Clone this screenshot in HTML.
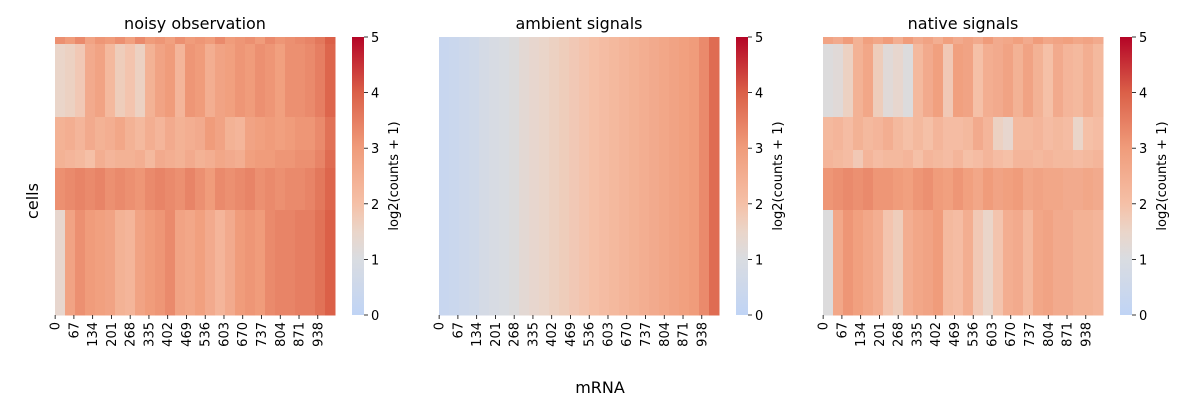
<!DOCTYPE html>
<html><head><meta charset="utf-8">
<style>
body{margin:0;background:#fff;font-family:"Liberation Sans","DejaVu Sans",sans-serif;}
svg text{font-family:"DejaVu Sans","Liberation Sans",sans-serif;fill:#000;}
</style></head>
<body>
<svg id="fig" width="1200" height="400" viewBox="0 0 1200 400" xmlns="http://www.w3.org/2000/svg">
<text x="600" y="393" font-size="16" text-anchor="middle">mRNA</text>
<text x="0" y="0" font-size="16" text-anchor="middle" transform="translate(38,201) rotate(-90)">cells</text>
</svg>
<script>
const blockHeights = [7, 73, 33, 18, 42, 105];
const noisyA = [3.2,3.0,3.3,2.8,3.1,3.0,3.2,2.9,3.3,3.0,3.1,2.9,3.2,3.0,3.1,3.0,3.3,3.0,3.1,3.2,3.0,3.3,3.1,3.2,3.3,3.4,3.6,4.0];
const noisyB = [1.5,1.6,1.8,2.6,2.8,2.2,1.7,1.9,1.6,2.4,2.8,3.0,2.3,3.1,3.0,2.5,2.8,2.9,3.1,3.0,3.2,3.1,2.9,3.2,3.2,3.3,3.5,3.9];
const noisyC = [2.4,2.5,2.3,2.6,2.4,2.5,2.7,2.4,2.2,2.5,2.3,2.6,2.4,2.5,2.6,3.0,2.8,2.4,2.3,2.8,2.9,3.0,2.9,3.0,3.1,3.1,3.3,3.7];
const noisyD = [2.4,2.3,2.2,2.0,2.5,2.3,2.4,2.4,2.5,2.2,2.6,2.5,2.4,2.6,2.4,2.5,2.7,2.6,2.5,2.9,3.0,3.0,3.1,3.1,3.2,3.2,3.4,3.8];
const noisyE = [3.2,3.3,3.4,3.3,3.4,3.2,3.3,3.2,3.1,3.3,3.4,3.3,3.2,3.4,3.2,3.0,3.3,3.2,3.3,3.4,3.2,3.3,3.2,3.3,3.3,3.4,3.6,3.9];
const noisyF = [1.4,2.8,3.2,3.0,2.9,2.8,2.4,2.3,2.8,3.0,3.1,3.3,2.8,2.7,2.9,2.6,2.3,2.6,3.0,3.1,3.0,3.3,3.4,3.4,3.5,3.5,3.7,4.0];
const noisyBlocks = [noisyA,noisyB,noisyC,noisyD,noisyE,noisyF];

const ambientCols = [0.3,0.4,0.5,0.6,0.8,0.9,1.0,1.1,1.3,1.4,1.5,1.6,1.7,1.8,1.9,2.0,2.1,2.2,2.3,2.4,2.5,2.6,2.7,2.8,2.9,3.0,3.3,3.8];

const nativeA = [2.8,2.6,3.0,2.4,2.9,2.7,3.0,2.5,3.0,2.6,2.8,2.5,2.9,2.6,2.8,2.6,3.0,2.6,2.7,2.9,2.6,3.0,2.7,2.8,2.9,2.7,2.8,2.6];
const nativeB = [1.1,1.2,1.6,2.4,2.7,1.7,1.2,1.4,1.1,2.2,2.6,2.9,1.8,2.9,2.8,2.0,2.5,2.6,2.8,2.4,2.8,2.4,2.0,2.6,2.3,2.2,2.5,2.2];
const nativeC = [2.2,2.3,2.1,2.4,2.2,2.3,2.5,2.2,2.0,2.2,2.0,2.3,2.1,2.1,2.2,2.6,2.3,1.6,1.4,2.2,2.2,2.3,2.1,2.2,2.1,1.5,2.0,2.1];
const nativeD = [2.3,2.2,2.1,1.8,2.3,2.1,2.2,2.2,2.3,2.0,2.3,2.2,2.1,2.3,2.0,2.1,2.3,2.1,2.0,2.3,2.3,2.2,2.3,2.2,2.2,2.1,2.2,2.3];
const nativeE = [3.1,3.2,3.3,3.2,3.3,3.1,3.1,3.0,2.9,3.1,3.2,3.0,2.9,3.1,2.9,2.7,3.0,2.8,2.9,3.0,2.7,2.8,2.7,2.7,2.6,2.6,2.7,2.6];
const nativeF = [1.1,2.7,3.1,2.9,2.7,2.5,1.9,1.7,2.5,2.7,2.8,3.0,2.2,2.1,2.5,1.8,1.5,1.9,2.5,2.6,2.2,2.7,2.8,2.6,2.6,2.4,2.4,2.3];
const nativeBlocks = [nativeA,nativeB,nativeC,nativeD,nativeE,nativeF];

const xTickLabels = ["0","67","134","201","268","335","402","469","536","603","670","737","804","871","938"];
const xTickValues = [0,67,134,201,268,335,402,469,536,603,670,737,804,871,938];
const nGenes = 1000;
const cbTicks = [0,1,2,3,4,5];

const NS="http://www.w3.org/2000/svg";
const svgRoot=document.getElementById('fig');
function el(tag,attrs,parent){const e=document.createElementNS(NS,tag);for(const k in attrs)e.setAttribute(k,attrs[k]);(parent||svgRoot).appendChild(e);return e;}

const stops=[[0,[192,212,245]],[1,[217,220,225]],[1.5,[234,213,201]],[2,[245,192,167]],[3,[240,156,123]],[4,[219,96,72]],[5,[180,4,38]]];
function color(v){v=Math.max(0,Math.min(5,v));for(let i=1;i<stops.length;i++){if(v<=stops[i][0]){const a=stops[i-1],b=stops[i];const t=(v-a[0])/(b[0]-a[0]);const c=a[1].map((x,j)=>Math.round(x+(b[1][j]-x)*t));return `rgb(${c[0]},${c[1]},${c[2]})`;}}return 'rgb(180,4,38)';}

const topY=37,bottomY=315,W=280;
const totalH=blockHeights.reduce((a,b)=>a+b,0);
function yScale(u){return topY+(bottomY-topY)*u/totalH;}
function cbScale(v){return bottomY-(bottomY-topY)*v/5;}

function panel(x0,title,getVal,name){
  const g=el('g',{});
  
  
  const nC=28, cw=W/nC;
  let acc=0;
  blockHeights.forEach((h,bi)=>{
    for(let c=0;c<nC;c++){
      const r=el('rect',{x:x0+c*cw,y:yScale(acc),width:cw+0.5,height:yScale(acc+h)-yScale(acc)+0.5,fill:color(getVal(bi,c))},g);
      
      
    }
    acc+=h;
  });
  const t=el('text',{x:x0+W/2,y:29,'font-size':16,'text-anchor':'middle'});
  t.textContent=title;
  
  
  xTickValues.forEach((v,i)=>{
    const x=x0+(v+0.5)*W/nGenes;
    el('line',{x1:x,x2:x,y1:bottomY,y2:bottomY+4,stroke:'#000','stroke-width':0.8});
    const tl=el('text',{x:0,y:0,'font-size':13,'text-anchor':'end',transform:`translate(${x+4.5},${bottomY+7}) rotate(-90)`});
    tl.textContent=xTickLabels[i];
    
    
  });
  const cx=x0+297;
  const defs=el('defs',{});
  const lg=el('linearGradient',{id:'g'+name,x1:0,y1:1,x2:0,y2:0},defs);
  for(let v=0;v<=5;v+=0.25){el('stop',{offset:v/5,'stop-color':color(v)},lg);}
  const cbar=el('rect',{x:cx,y:topY,width:12,height:bottomY-topY,fill:`url(#g${name})`});
  
  
  cbTicks.forEach(v=>{
    const y=cbScale(v);
    el('line',{x1:cx+12,x2:cx+16,y1:y,y2:y,stroke:'#000','stroke-width':0.8});
    const tl=el('text',{x:cx+19,y:y+5,'font-size':13});
    tl.textContent=v;
    
    
  });
  const cl=el('text',{x:0,y:0,'font-size':13,'text-anchor':'middle',transform:`translate(${cx+46},${(topY+bottomY)/2}) rotate(-90)`});
  cl.textContent='log2(counts + 1)';
  
  
}
panel(55,'noisy observation',(b,c)=>noisyBlocks[b][c],'noisy');
panel(439,'ambient signals',(b,c)=>ambientCols[c],'ambient');
panel(823,'native signals',(b,c)=>nativeBlocks[b][c],'native');
</script>
</body></html>
